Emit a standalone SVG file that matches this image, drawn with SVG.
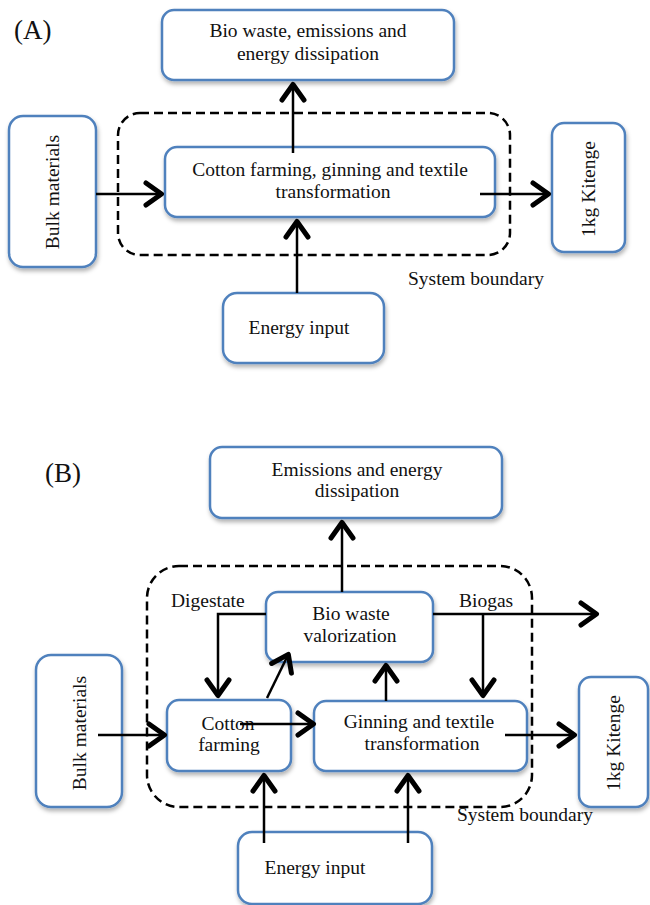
<svg xmlns="http://www.w3.org/2000/svg" width="650" height="905" viewBox="0 0 650 905">
<style>
.box{fill:#fff;stroke:#4F81BD;stroke-width:2.5;filter:url(#sh)}
.t{font-family:"Liberation Serif","Times New Roman",serif;font-size:19.5px;fill:#111;text-anchor:middle}
.lbl{font-family:"Liberation Serif","Times New Roman",serif;font-size:19.5px;fill:#111}
.pl{font-family:"Liberation Serif","Times New Roman",serif;font-size:27px;fill:#111}
.bd{fill:none;stroke:#000;stroke-width:2.5;stroke-dasharray:9 5}
.c{fill:none;stroke:#000;stroke-width:2.5;marker-end:url(#ah)}
</style>
<defs>
<filter id="sh" x="-20%" y="-20%" width="140%" height="150%">
<feDropShadow dx="1" dy="3" stdDeviation="2.2" flood-color="#000" flood-opacity="0.3"/>
</filter>
<marker id="ah" markerUnits="userSpaceOnUse" markerWidth="30" markerHeight="30" viewBox="-24 -15 30 30" refX="0" refY="0" orient="auto" overflow="visible">
<path d="M-17,-11 L-1.5,0 L-17,11" fill="none" stroke="#000" stroke-width="5" stroke-linecap="round" stroke-linejoin="round"/>
</marker>
</defs>

<!-- Panel A -->
<text class="pl" x="14" y="39">(A)</text>
<rect id="boundaryA" class="bd" x="118" y="113" width="392" height="142" rx="22"/>
<text class="lbl" x="408" y="285">System boundary</text>

<g id="a-biowaste">
<rect class="box" x="162" y="10" width="292" height="70" rx="12"/>
<text class="t" x="308" y="37">Bio waste, emissions and</text>
<text class="t" x="308" y="60">energy dissipation</text>
</g>
<g id="a-bulk">
<rect class="box" x="9" y="116" width="87" height="151" rx="14"/>
<text class="t" transform="translate(59,192) rotate(-90)">Bulk materials</text>
</g>
<g id="a-cotton">
<rect class="box" x="165" y="147" width="330" height="70" rx="12"/>
<text class="t" x="330" y="176">Cotton farming, ginning and textile</text>
<text class="t" x="333" y="198">transformation</text>
</g>
<g id="a-kitenge">
<rect class="box" x="552" y="123" width="73" height="129" rx="12"/>
<text class="t" transform="translate(595,189) rotate(-90)">1kg Kitenge</text>
</g>
<g id="a-energy">
<rect class="box" x="223" y="293" width="161" height="70" rx="14"/>
<text class="t" x="299" y="334">Energy input</text>
</g>

<g id="a-connectors">
<line class="c" x1="96" y1="194" x2="163" y2="194"/>
<line class="c" x1="480" y1="194" x2="550" y2="194"/>
<line class="c" x1="293" y1="153" x2="293" y2="83"/>
<line class="c" x1="297" y1="293" x2="297" y2="220"/>
</g>

<!-- Panel B -->
<text class="pl" x="45" y="482">(B)</text>
<rect id="boundaryB" class="bd" x="147" y="566" width="385" height="241" rx="32"/>
<text class="lbl" x="457" y="821">System boundary</text>
<text class="lbl" x="171" y="607">Digestate</text>
<text class="lbl" x="459" y="607">Biogas</text>

<g id="b-emissions">
<rect class="box" x="210" y="447" width="292" height="71" rx="12"/>
<text class="t" x="357" y="476">Emissions and energy</text>
<text class="t" x="357" y="497">dissipation</text>
</g>
<g id="b-biowaste">
<rect class="box" x="266" y="592" width="167" height="70" rx="12"/>
<text class="t" x="351" y="620">Bio waste</text>
<text class="t" x="350" y="642">valorization</text>
</g>
<g id="b-bulk">
<rect class="box" x="36" y="655" width="86" height="152" rx="15"/>
<text class="t" transform="translate(86,733) rotate(-90)">Bulk materials</text>
</g>
<g id="b-cotton">
<rect class="box" x="167" y="700" width="124" height="71" rx="12"/>
<text class="t" x="228" y="730">Cotton</text>
<text class="t" x="229" y="751">farming</text>
</g>
<g id="b-ginning">
<rect class="box" x="314" y="701" width="213" height="70" rx="12"/>
<text class="t" x="419" y="728">Ginning and textile</text>
<text class="t" x="422" y="750">transformation</text>
</g>
<g id="b-kitenge">
<rect class="box" x="579" y="677" width="69" height="130" rx="12"/>
<text class="t" transform="translate(620,743) rotate(-90)">1kg Kitenge</text>
</g>
<g id="b-energy">
<rect class="box" x="238" y="832" width="194" height="72" rx="14"/>
<text class="t" x="315" y="874">Energy input</text>
</g>

<g id="b-connectors">
<line class="c" x1="342" y1="592" x2="342" y2="521"/>
<polyline class="c" points="266,614 218,614 218,697"/>
<line class="c" x1="267" y1="698" x2="289" y2="653"/>
<line class="c" x1="433" y1="614" x2="598" y2="614"/>
<line class="c" x1="483" y1="614" x2="483" y2="697"/>
<line class="c" x1="386" y1="701" x2="386" y2="664"/>
<line class="c" x1="240" y1="724" x2="315" y2="724"/>
<line class="c" x1="98" y1="735" x2="166" y2="735"/>
<line class="c" x1="505" y1="735" x2="576" y2="735"/>
<line class="c" x1="264" y1="843" x2="264" y2="774"/>
<line class="c" x1="408" y1="843" x2="408" y2="774"/>
</g>
</svg>
